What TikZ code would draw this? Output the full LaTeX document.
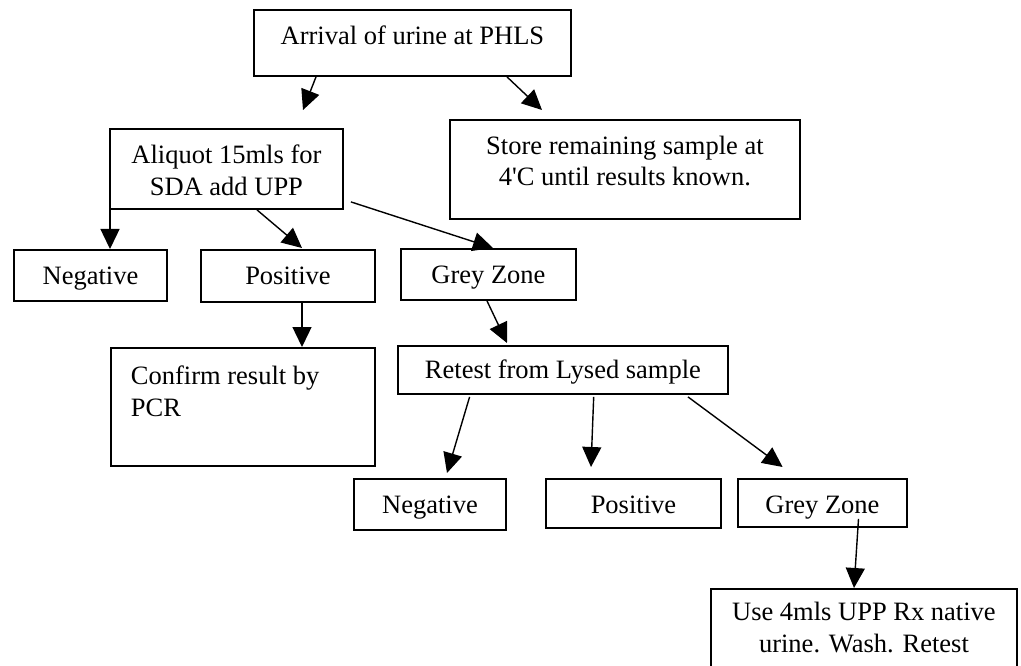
\documentclass[tikz,border=0pt]{standalone}
\usepackage{fontspec}
\setmainfont{Liberation Serif}[Ligatures=TeXOff]
\usetikzlibrary{arrows.meta}
% #1 width, #2 height, #3 first-baseline offset, #4 text
\newcommand{\bxt}[4]{\parbox[c][#2][t]{#1}{\centering\rule{0pt}{#3}#4\par}}
\newcommand{\bxl}[5]{\parbox[c][#2][t]{#1}{\raggedright\leftskip=#4\rule{0pt}{#3}#5\par}}
\tikzset{
  box/.style={draw, line width=1.9pt, inner sep=0pt, anchor=north west,
    font=\fontsize{26.5}{31.5}\selectfont},
  arr/.style={line width=1.4pt, -{Triangle[length=20pt,width=19pt]}}
}
\begin{document}
\begin{tikzpicture}[x=1pt,y=-1pt]
\useasboundingbox (0,0) rectangle (1021,666);
\clip (0,0) rectangle (1021,666);
\fill[white] (0,0) rectangle (1021,666);

\node[box] (arv) at (253,9)   {\bxt{317pt}{66pt}{35pt}{Arrival of urine at PHLS}};
\node[box] (ali) at (109,128) {\bxt{233pt}{80pt}{35pt}{Aliquot 15mls for\\SDA add UPP}};
\node[box] (sto) at (449,119) {\bxt{350pt}{99pt}{34.5pt}{Store remaining sample at\\4'C until results known.}};
\node[box] (neg1) at (13,249) {\bxt{153pt}{51pt}{35pt}{Negative}};
\node[box] (pos1) at (200,249) {\bxt{174pt}{52pt}{35pt}{Positive}};
\node[box] (gz1) at (400,248) {\bxt{175pt}{51pt}{35pt}{Grey Zone}};
\node[box] (conf) at (110,347) {\bxl{264pt}{118pt}{37pt}{20pt}{Confirm result by\\PCR}};
\node[box] (ret) at (397,345) {\bxt{330pt}{48pt}{33pt}{Retest from Lysed sample}};
\node[box] (neg2) at (353,478) {\bxt{152pt}{51pt}{35pt}{Negative}};
\node[box] (pos2) at (545,478) {\bxt{175pt}{49pt}{35pt}{Positive}};
\node[box] (gz2) at (737,478) {\bxt{169pt}{48pt}{35pt}{Grey Zone}};
\node[box] (use) at (710,588) {\bxt{306pt}{110pt}{32pt}{Use 4mls UPP Rx native\\urine. Wash. Retest}};

\draw[arr] ([xshift=63pt]arv.south west) -- ([xshift=194pt,yshift=18pt]ali.north west);
\draw[arr] ([xshift=254pt]arv.south west) -- ([xshift=93pt,yshift=9pt]sto.north west);
\draw[arr] ([xshift=1pt]ali.south west) -- ([xshift=97pt]neg1.north west);
\draw[arr] ([xshift=148pt]ali.south west) -- ([xshift=102pt,yshift=1pt]pos1.north west);
\draw[arr] ([xshift=7pt,yshift=8pt]ali.south east) -- ([xshift=93pt]gz1.north west);
\draw[arr] ([xshift=102pt]pos1.south west) -- ([xshift=192pt]conf.north west);
\draw[arr] ([xshift=87pt]gz1.south west) -- ([xshift=110pt,yshift=2pt]ret.north west);
\draw[arr] ([xshift=72.6pt,yshift=-2pt]ret.south west) -- ([xshift=94pt,yshift=5pt]neg2.north west);
\draw[arr] ([xshift=196.7pt,yshift=-2pt]ret.south west) -- ([xshift=46pt,yshift=11pt]pos2.north west);
\draw[arr] ([xshift=291pt,yshift=-2pt]ret.south west) -- ([xshift=45.6pt,yshift=11pt]gz2.north west);
\draw[arr] ([xshift=121.5pt,yshift=9pt]gz2.south west) -- ([xshift=144pt]use.north west);
\end{tikzpicture}
\end{document}
